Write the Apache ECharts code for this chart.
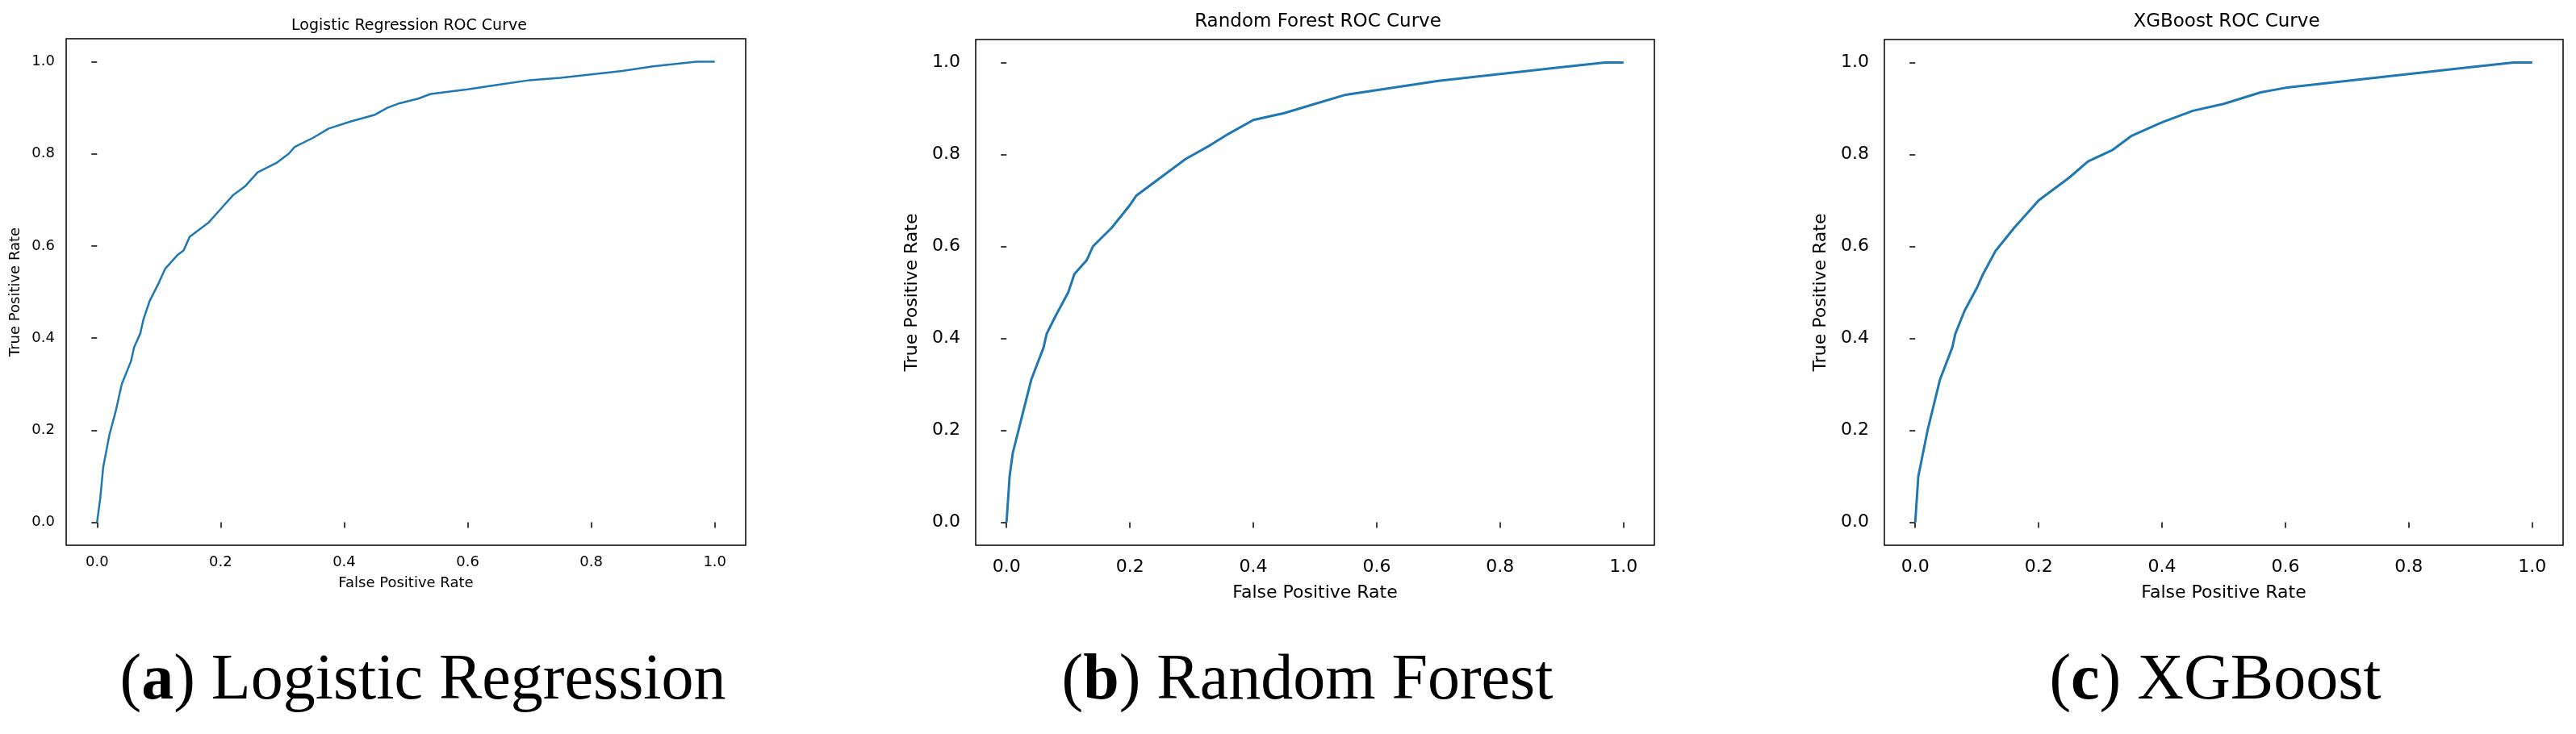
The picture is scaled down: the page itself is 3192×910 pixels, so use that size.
<!DOCTYPE html>
<html><head><meta charset="utf-8">
<script src="https://cdn.jsdelivr.net/npm/echarts@6/dist/echarts.min.js"></script>
<style>html,body{margin:0;padding:0;background:#fff}#c{width:3192px;height:910px}</style>
</head><body><div id="c"></div>
<script>
const tickValues = [0, 0.2, 0.4, 0.6, 0.8, 1.0];
const lrFpr = [0,0.005,0.01,0.02,0.03,0.04,0.055,0.06,0.07,0.075,0.085,0.1,0.11,0.13,0.14,0.15,0.16,0.18,0.2,0.22,0.24,0.26,0.29,0.31,0.32,0.35,0.375,0.41,0.45,0.47,0.49,0.52,0.54,0.6,0.65,0.7,0.75,0.85,0.9,0.97,1.0];
const lrTpr = [0,0.05,0.12,0.19,0.24,0.30,0.35,0.38,0.41,0.44,0.48,0.52,0.55,0.58,0.59,0.62,0.63,0.65,0.68,0.71,0.73,0.76,0.78,0.80,0.815,0.835,0.855,0.87,0.885,0.90,0.91,0.92,0.93,0.94,0.95,0.96,0.965,0.98,0.99,1.0,1.0];
const rfFpr = [0,0.005,0.01,0.025,0.04,0.06,0.065,0.08,0.1,0.11,0.13,0.14,0.17,0.2,0.21,0.25,0.29,0.33,0.36,0.4,0.45,0.5,0.55,0.6,0.65,0.7,0.8,0.9,0.97,1.0];
const rfTpr = [0,0.1,0.15,0.23,0.31,0.38,0.41,0.45,0.50,0.54,0.57,0.60,0.64,0.69,0.71,0.75,0.79,0.82,0.845,0.875,0.89,0.91,0.93,0.94,0.95,0.96,0.975,0.99,1.0,1.0];
const xgFpr = [0,0.005,0.02,0.04,0.06,0.065,0.08,0.1,0.11,0.13,0.16,0.2,0.21,0.25,0.28,0.32,0.35,0.4,0.45,0.5,0.56,0.6,0.7,0.8,0.9,0.97,1.0];
const xgTpr = [0,0.1,0.2,0.31,0.38,0.41,0.46,0.51,0.54,0.59,0.64,0.70,0.71,0.75,0.785,0.81,0.84,0.87,0.895,0.91,0.935,0.945,0.96,0.975,0.99,1.0,1.0];
const titles = ['Logistic Regression ROC Curve','Random Forest ROC Curve','XGBoost ROC Curve'];
const captions = [['a','Logistic Regression'],['b','Random Forest'],['c','XGBoost']];

const F = 'DejaVu Sans';
const grids = [
  {left:82, right:3192-924, top:48, bottom:910-676},
  {left:1209, right:3192-2050, top:49, bottom:910-676},
  {left:2335, right:3192-3176, top:49, bottom:910-676}
];
const fs = [18,22,22];
const lm = [[12,14],[16,19],[16,19]];
const ng = [[38,54],[48,68],[48,68]];
const tpos = [[502,18],[1628,11],[2754,11]];
const cap = [519,1615,2740];
const data = [[lrFpr,lrTpr],[rfFpr,rfTpr],[xgFpr,xgTpr]];

const option = {animation:false, backgroundColor:'#fff', grid:[], xAxis:[], yAxis:[], series:[], title:[]};
for (let i=0;i<3;i++){
  option.grid.push(Object.assign({show:true, borderColor:'#000', borderWidth:1.5, containLabel:false}, grids[i]));
  const ax = (isX)=>({
    type:'value', gridIndex:i, min:-0.05, max:1.05,
    name: isX ? 'False Positive Rate' : 'True Positive Rate',
    nameLocation:'middle', nameGap: ng[i][isX?0:1],
    nameTextStyle:{fontFamily:F, fontSize:fs[i], color:'#000'},
    axisLine:{show:false},
    splitLine:{show:false},
    axisTick:{show:true, inside:false, length:7, customValues:tickValues, lineStyle:{color:'#000', width:1.5}},
    axisLabel:{customValues:tickValues, margin:lm[i][isX?0:1], fontFamily:F, fontSize:fs[i], color:'#000', formatter:v=>v.toFixed(1)}
  });
  option.xAxis.push(ax(true));
  option.yAxis.push(ax(false));
  option.series.push({type:'line', xAxisIndex:i, yAxisIndex:i, showSymbol:false, symbol:'none',
    data:data[i][0].map((x,k)=>[x,data[i][1][k]]), lineStyle:{color:'#1f77b4', width:i==0?2.5:3}});
  option.title.push({text:titles[i], left:tpos[i][0], top:tpos[i][1], textAlign:'center',
    textStyle:{fontFamily:F, fontSize:fs[i]+1, fontWeight:'normal', color:'#000'}});
  option.title.push({text:'({b|'+captions[i][0]+'}) '+captions[i][1], left:cap[i], top:800, textAlign:'center',
    textStyle:{fontFamily:'Liberation Serif', fontSize:80, fontWeight:'normal', color:'#000',
      rich:{b:{fontFamily:'Liberation Serif', fontSize:80, fontWeight:'bold', color:'#000'}}}});
}
echarts.init(document.getElementById('c')).setOption(option);
</script></body></html>
